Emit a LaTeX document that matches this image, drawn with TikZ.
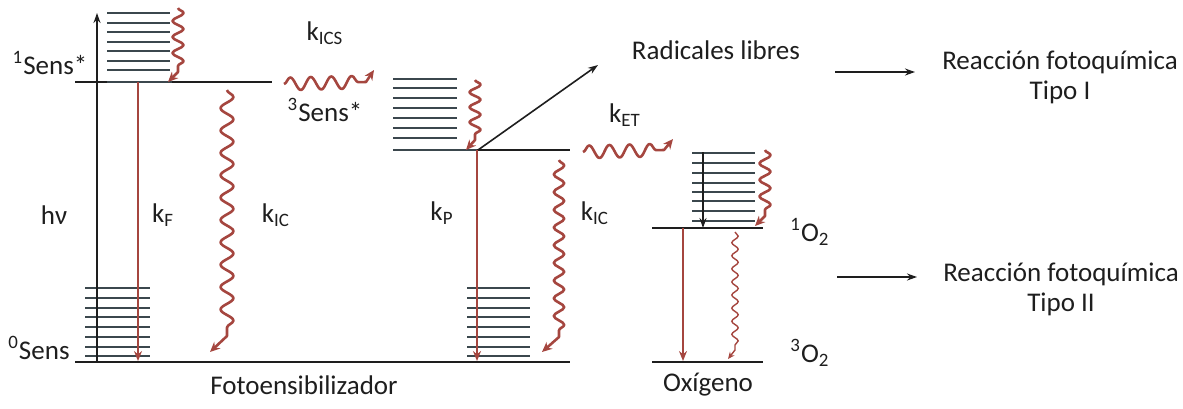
\documentclass[tikz,border=0pt]{standalone}
\usepackage{fontspec}
\setmainfont{Carlito}
\usetikzlibrary{decorations.pathmorphing,arrows.meta}
\definecolor{lvl}{HTML}{3B474D}
\definecolor{rd}{HTML}{A5463F}
\definecolor{ink}{HTML}{1E1E1E}
\begin{document}
\begin{tikzpicture}[x=0.5pt,y=-0.5pt,
  level/.style={draw=ink,line width=1pt},
  vib/.style={draw=lvl,line width=1.3pt},
  redline/.style={draw=rd,line width=1.3pt,-{Stealth[length=5pt,width=4pt]}},
  redwave/.style={draw=rd,line width=1.3pt,line join=round,-{Stealth[length=5pt,width=4.5pt]}},
  blackarrow/.style={draw=ink,line width=0.8pt,-{Stealth[length=5pt,width=3.5pt]}},
  lbl/.style={font=\fontsize{13.5}{15}\selectfont,text=ink,inner sep=0pt}
]
\useasboundingbox (0,0) rectangle (1183,408);

% ---------- Fotoensibilizador: levels ----------
\foreach \y in {13,23,32,42,51,61,70} \draw[vib] (107,\y) -- (170,\y);
\foreach \y in {288,298,308,317,327,337,347,356} \draw[vib] (85,\y) -- (150,\y);
\foreach \y in {288,298,308,317,327,337,347,356} \draw[vib] (467,\y) -- (530,\y);
\foreach \y in {79,88,98,108,118,128,138} \draw[vib] (393,\y) -- (457,\y);

\draw[level] (75,82) -- (272,82);
\draw[vib] (107,82) -- (172,82);
\draw[level] (393,150) -- (570,150);
\draw[vib] (393,150) -- (477,150);
\draw[level] (75,362) -- (570,362);

% ---------- Oxygen levels ----------
\foreach \y in {153,163,173,183,192,201,211,221} \draw[vib] (692,\y) -- (755,\y);
\draw[level] (652,228) -- (763,228);
\draw[level] (652,362) -- (763,362);

% ---------- coordinates ----------
\coordinate (hvS) at (97,362);
\coordinate (hvE) at (97,13);
\coordinate (kFs) at (138,82);
\coordinate (kFe) at (138,361);
\coordinate (kPs) at (477,150);
\coordinate (kPe) at (477,361);
\coordinate (radS) at (478,150);
\coordinate (radE) at (598,65);
\coordinate (oxAs) at (703,152);
\coordinate (oxAe) at (703,228);
\coordinate (oxRs) at (683,228);
\coordinate (oxRe) at (683,361);

% ---------- arrows ----------
\draw[blackarrow] (hvS) -- (hvE);
\draw[redline] (kFs) -- (kFe);
\draw[redline] (kPs) -- (kPe);
\draw[blackarrow] (radS) -- (radE);
\draw[blackarrow] (oxAs) -- (oxAe);
\draw[redline] (oxRs) -- (oxRe);

% ---------- wavy arrows ----------
% vibrational relaxation (singlet, triplet, oxygen)
\draw[redwave] (178,8) decorate[decoration={snake,amplitude=2.8pt,segment length=8pt}] {-- (178,72)} -- (168,82);
\draw[redwave] (475,80) decorate[decoration={snake,amplitude=2.8pt,segment length=7.5pt}] {-- (475,140)} -- (466,150);
\draw[redwave] (765,150) decorate[decoration={snake,amplitude=2.8pt,segment length=8.25pt}] {-- (765,216)} -- (755,226);
% kIC (singlet) and kIC (triplet)
\draw[redwave] (227,90) decorate[decoration={snake,amplitude=3.2pt,segment length=11.18pt}] {-- (227,336)} -- (210,352);
\draw[redwave] (559,160) decorate[decoration={snake,amplitude=2.6pt,segment length=8.85pt}] {-- (559,337)} -- (542,352);
% kICS and kET
\draw[redwave] (284,84) decorate[decoration={snake,amplitude=3.2pt,segment length=10.25pt}] {-- (366,82)} -- (374,70);
\draw[redwave] (583,152) decorate[decoration={snake,amplitude=3.2pt,segment length=10.1pt}] {-- (664,150)} -- (673,139);
% oxygen 1O2 -> 3O2 (thin)
\draw[draw=rd,line width=0.7pt,-{Stealth[length=3.5pt,width=3pt]}] (735,232) decorate[decoration={snake,amplitude=1.6pt,segment length=6.55pt}] {-- (735,350)} -- (728,359);

% ---------- Type arrows ----------
\coordinate (t1s) at (835,72);
\coordinate (t1e) at (915,72);
\coordinate (t2s) at (837,277);
\coordinate (t2e) at (917,277);
\draw[blackarrow] (t1s) -- (t1e);
\draw[blackarrow] (t2s) -- (t2e);

% ---------- labels ----------
\node[lbl] (lS1) at (50,63) {\textsuperscript{1}Sens*};
\node[lbl] (lS0) at (39,348) {\textsuperscript{0}Sens};
\node[lbl] (lS3) at (325,110) {\textsuperscript{3}Sens*};
\node[lbl] (lkics) at (325,33) {k\textsubscript{ICS}};
\node[lbl] (lhv) at (54,215) {hν};
\node[lbl] (lkF) at (163,215) {k\textsubscript{F}};
\node[lbl] (lkIC1) at (276,215) {k\textsubscript{IC}};
\node[lbl] (lkP) at (442,213) {k\textsubscript{P}};
\node[lbl] (lkIC2) at (595,213) {k\textsubscript{IC}};
\node[lbl] (lkET) at (625,115) {k\textsubscript{ET}};
\node[lbl] (lfoto) at (304,385) {Fotoensibilizador};
\node[lbl] (loxi) at (708,385) {Oxígeno};
\node[lbl] (lO1) at (810,232) {\textsuperscript{1}O\textsubscript{2}};
\node[lbl] (lO3) at (810,353) {\textsuperscript{3}O\textsubscript{2}};
\node[lbl] (lrad) at (716,50) {Radicales libres};
\node[lbl,align=center] (lt1) at (1060,77) {Reacción fotoquímica\\Tipo I};
\node[lbl,align=center] (lt2) at (1061,289) {Reacción fotoquímica\\Tipo II};
\end{tikzpicture}
\end{document}
